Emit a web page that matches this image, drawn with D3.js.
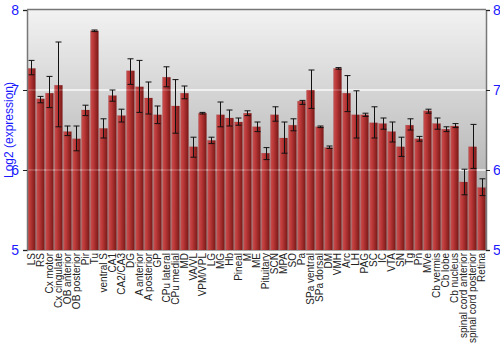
<!DOCTYPE html>
<html><head><meta charset="utf-8">
<script src="https://cdn.jsdelivr.net/npm/d3@7"></script>
<style>body{margin:0;background:#fff;}svg{display:block;font-family:"Liberation Sans",Arial,sans-serif;}</style>
</head><body><svg id="c" width="500" height="350"></svg>
<script>
const categories = ["LS","RS","Cx motor","Cx cingulate","OB anterior","OB posterior","Pir","Tu","ventral S","CA1","CA2/CA3","DG","A anterior","A posterior","GP","CPu lateral","CPu medial","MD","VA/VL","VPM/VPL","LG","MG","Hb","Pineal","M","ME","Pituitary","SCN","MPA","SO","Pa","SPa ventral","SPa dorsal","DM","VMH","Arc","LH","PAG","SC","IC","VTA","SN","Tg","Pn","MVe","Cb vermis","Cb lobe","Cb nucleus","spinal cord anterior","spinal cord posterior","Retina"];
const values = [7.27,6.89,6.96,7.06,6.48,6.39,6.75,7.74,6.52,6.93,6.68,7.24,7.04,6.90,6.69,7.16,6.80,6.96,6.29,6.71,6.37,6.69,6.65,6.60,6.71,6.54,6.21,6.69,6.40,6.56,6.86,7.00,6.54,6.28,7.27,6.96,6.69,6.69,6.59,6.58,6.48,6.29,6.56,6.39,6.74,6.58,6.51,6.55,5.85,6.29,5.78];
const errLow = [7.19,6.84,6.78,6.54,6.43,6.24,6.68,7.73,6.40,6.86,6.60,7.07,6.72,6.70,6.58,7.04,6.46,6.89,6.16,6.70,6.33,6.54,6.55,6.56,6.68,6.48,6.13,6.61,6.21,6.49,6.82,6.77,6.53,6.27,7.26,6.73,6.40,6.67,6.40,6.51,6.35,6.17,6.50,6.36,6.71,6.51,6.48,6.53,5.69,6.02,5.68];
const errHigh = [7.37,6.92,7.17,7.60,6.55,6.55,6.81,7.75,6.64,7.00,6.76,7.39,7.37,7.10,6.80,7.29,7.13,7.05,6.41,6.72,6.41,6.85,6.75,6.65,6.74,6.60,6.28,6.79,6.60,6.64,6.87,7.25,6.55,6.30,7.28,7.18,6.99,6.71,6.79,6.65,6.60,6.41,6.64,6.42,6.76,6.65,6.54,6.58,6.01,6.57,5.89];
const yTicks = [5,6,7,8];
const yLabel = "Log2 (expression)";

const svg = d3.select("#c");
const m = {l:27, r:14, t:10, b:100};
const W = 500, H = 350;
const x = d3.scaleBand().domain(categories).range([m.l, W-m.r]).paddingInner(0.11).paddingOuter(0.05);
const y = d3.scaleLinear().domain([5,8]).range([H-m.b, m.t]);

const defs = svg.append("defs");
const bg = defs.append("linearGradient").attr("id","bg").attr("x1",0).attr("y1",0).attr("x2",0).attr("y2",1);
bg.append("stop").attr("offset","0%").attr("stop-color","#f2f2f2");
bg.append("stop").attr("offset","100%").attr("stop-color","#9c9c9c");
const bar = defs.append("linearGradient").attr("id","bar").attr("x1",0).attr("y1",0).attr("x2",1).attr("y2",0);
bar.append("stop").attr("offset","0%").attr("stop-color","#c85050");
bar.append("stop").attr("offset","35%").attr("stop-color","#bb3838");
bar.append("stop").attr("offset","100%").attr("stop-color","#7a1818");

svg.append("rect").attr("x",m.l).attr("y",m.t).attr("width",W-m.r-m.l).attr("height",H-m.b-m.t).attr("fill","url(#bg)");

svg.append("g").selectAll("line").data(yTicks.filter(d=>d>5&&d<8)).join("line")
  .attr("x1",m.l).attr("x2",W-m.r).attr("y1",d=>y(d)).attr("y2",d=>y(d))
  .attr("stroke","#f4f4f4").attr("stroke-width",1.5);

svg.append("g").selectAll("rect").data(categories).join("rect")
  .attr("x",d=>x(d)).attr("width",x.bandwidth())
  .attr("y",(d,i)=>y(values[i])).attr("height",(d,i)=>y(5)-y(values[i]))
  .attr("fill","url(#bar)").attr("stroke","#8a2a2a").attr("stroke-opacity",0.35).attr("stroke-width",0.5);

svg.append("g").selectAll("line").data(yTicks.filter(d=>d>5&&d<8)).join("line")
  .attr("x1",m.l).attr("x2",W-m.r).attr("y1",d=>y(d)).attr("y2",d=>y(d))
  .attr("stroke","#ffffff").attr("stroke-opacity",0.35).attr("stroke-width",1);

const eg = svg.append("g").attr("stroke","#111").attr("stroke-width",1);
categories.forEach((c,i)=>{
  const cx = Math.round(x(c)+x.bandwidth()/2)+0.5;
  eg.append("line").attr("x1",cx).attr("x2",cx).attr("y1",y(errLow[i])).attr("y2",y(errHigh[i]));
  eg.append("line").attr("x1",cx-3).attr("x2",cx+3).attr("y1",y(errLow[i])).attr("y2",y(errLow[i]));
  eg.append("line").attr("x1",cx-3).attr("x2",cx+3).attr("y1",y(errHigh[i])).attr("y2",y(errHigh[i]));
});

svg.append("line").attr("x1",m.l).attr("x2",W-m.r).attr("y1",m.t-0.5).attr("y2",m.t-0.5).attr("stroke","#777").attr("stroke-width",1.5);
svg.append("line").attr("x1",m.l).attr("x2",W-m.r).attr("y1",H-m.b+0.5).attr("y2",H-m.b+0.5).attr("stroke","#aaa").attr("stroke-width",1);

const left = d3.axisLeft(y).tickValues(yTicks).tickFormat(d3.format("d")).tickSize(4).tickPadding(4);
const gl = svg.append("g").attr("transform",`translate(${m.l},0)`).call(left);
gl.select(".domain").attr("stroke","#777").attr("stroke-width",1.5);
gl.selectAll(".tick line").attr("stroke","#222");
gl.selectAll(".tick text").attr("fill","#1a1aff").style("font-size","14px");

const right = d3.axisRight(y).tickValues(yTicks).tickFormat(d3.format("d")).tickSize(4).tickPadding(3);
const gr = svg.append("g").attr("transform",`translate(${W-m.r},0)`).call(right);
gr.select(".domain").attr("stroke","#777").attr("stroke-width",1.5);
gr.selectAll(".tick line").attr("stroke","#222");
gr.selectAll(".tick text").attr("fill","#1a1aff").style("font-size","14px");

svg.append("text").attr("transform",`translate(13,${(m.t+H-m.b)/2}) rotate(-90)`)
  .attr("text-anchor","middle").attr("fill","#1a1aff").style("font-size","12px").text(yLabel);

svg.append("g").selectAll("text").data(categories).join("text")
  .attr("transform",d=>`translate(${x(d)+x.bandwidth()/2+3.5},${H-m.b+3}) rotate(-90)`)
  .attr("text-anchor","end").attr("fill","#222").style("font-size","10px").text(d=>d);
</script></body></html>
